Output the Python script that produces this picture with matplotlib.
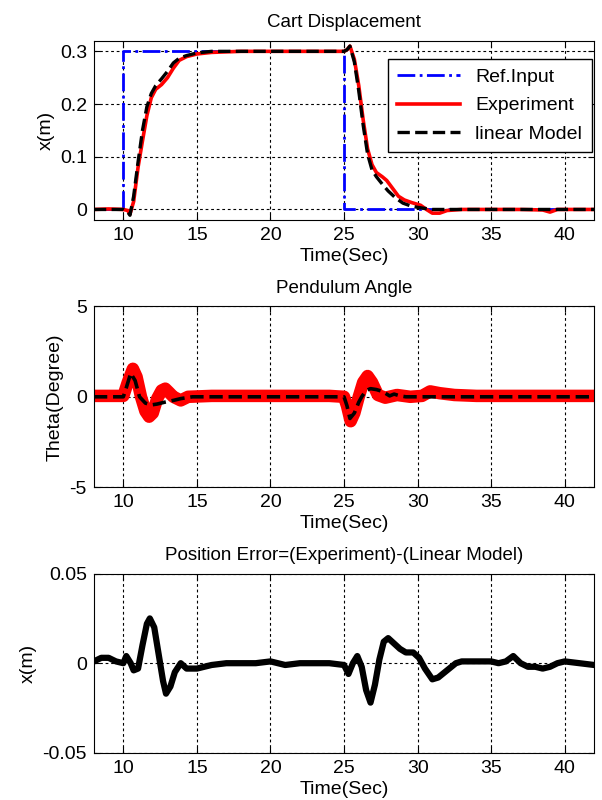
import matplotlib.pyplot as plt
import numpy as np

plt.rcParams['font.family'] = ['Liberation Sans', 'DejaVu Sans']
plt.rcParams['font.size'] = 14
plt.rcParams['axes.unicode_minus'] = False

# reference input (step)
t_ref = [8, 10, 10, 25, 25, 42]
x_ref = [0, 0, 0.3, 0.3, 0, 0]

# cart displacement, experiment
t_exp = [8, 9, 10, 10.3, 10.45, 10.7, 11.0, 11.3, 11.6, 11.9, 12.2, 12.6, 13.0, 13.4, 13.8, 14.3,
         15.0, 16.0, 18, 20, 22, 24, 25.0, 25.2, 25.4, 25.7, 26.0, 26.3, 26.6, 26.9, 27.2,
         27.6, 27.9, 28.3, 28.7, 29.1, 29.6, 30.2, 30.6, 31.0, 31.5, 32.0, 33, 35, 37, 38.5,
         39, 39.5, 41, 42]
x_exp = [0, 0.001, 0.0, -0.002, -0.009, 0.015, 0.08, 0.13, 0.178, 0.212, 0.228, 0.237, 0.25,
         0.268, 0.283, 0.29, 0.295, 0.298, 0.3, 0.3, 0.3, 0.3, 0.3, 0.303, 0.31, 0.285,
         0.235, 0.17, 0.115, 0.085, 0.07, 0.062, 0.055, 0.04, 0.025, 0.018, 0.013, 0.008,
         0.0, -0.007, -0.007, -0.002, 0.0, 0.0, 0.0, -0.001, -0.005, 0.0, 0.0, 0.0]

# cart displacement, linear model
t_lin = [8, 9, 10, 10.3, 10.45, 10.7, 11.0, 11.3, 11.6, 11.9, 12.2, 12.6, 13.0, 13.4, 13.8, 14.3,
         15.0, 16.0, 18, 20, 22, 24, 25.0, 25.2, 25.4, 25.7, 26.0, 26.3, 26.6, 26.9, 27.2,
         27.6, 28.0, 28.5, 29.0, 29.5, 30.0, 31.0, 32, 35, 42]
x_lin = [0, 0, 0.0, -0.005, -0.011, 0.025, 0.09, 0.15, 0.195, 0.22, 0.235, 0.248, 0.262,
         0.278, 0.287, 0.292, 0.297, 0.3, 0.3, 0.3, 0.3, 0.3, 0.3, 0.303, 0.31, 0.28,
         0.225, 0.16, 0.105, 0.075, 0.062, 0.048, 0.035, 0.022, 0.012, 0.007, 0.004, 0.0,
         0.0, 0.0, 0.0]

# pendulum angle, experiment
t_th = [8, 10.0, 10.3, 10.65, 10.9, 11.2, 11.5, 11.75, 12.0, 12.3, 12.6, 12.85, 13.1, 13.4,
        13.9, 14.4, 16, 20, 24, 25.0, 25.2, 25.45, 25.7, 26.0, 26.3, 26.6, 26.9, 27.3,
        27.8, 28.6, 29.5, 30.3, 30.85, 31.5, 32.5, 34, 37, 42]
th_exp = [0.05, 0.05, 0.8, 1.55, 1.1, 0.0, -0.8, -1.1, -0.9, -0.1, 0.35, 0.45, 0.25, 0.0,
          -0.2, 0.0, 0.05, 0.05, 0.05, 0.0, -0.5, -1.35, -0.9, 0.0, 0.8, 1.15, 0.8, 0.1,
          -0.05, 0.1, 0.0, 0.05, 0.3, 0.2, 0.1, 0.05, 0.05, 0.05]

# pendulum angle, linear model
t_thl = [8, 10.0, 10.2, 10.5, 10.8, 11.1, 11.5, 11.9, 12.3, 12.8, 13.4, 13.9, 14.7, 25.0,
         25.2, 25.4, 25.7, 26.0, 26.2, 26.5, 26.8, 27.2, 27.6, 28.1, 28.4, 28.8, 29.2, 42]
th_lin = [0, 0, 0.5, 1.3, 0.9, 0.0, -0.35, -0.45, -0.4, -0.3, -0.2, -0.1, 0.0, 0.0,
          -0.5, -1.2, -0.9, -0.3, 0.0, 0.35, 0.45, 0.4, 0.3, 0.05, 0.15, 0.05, 0.0, 0.0]

# position error
t_err = [8, 8.5, 9, 9.5, 10, 10.2, 10.5, 10.7, 11, 11.3, 11.6, 11.8, 12.1, 12.4, 12.7,
         12.9, 13.2, 13.5, 13.9, 14.3, 15, 16, 17, 18, 19, 20, 21, 22, 23, 24, 25, 25.3,
         25.6, 25.9, 26.2, 26.5, 26.8, 27.1, 27.4, 27.7, 28.0, 28.4, 28.8, 29.2, 29.7,
         30.1, 30.5, 31.0, 31.4, 32, 32.6, 33, 34, 35, 35.5, 36, 36.5, 37, 37.5, 38, 38.5,
         39, 39.5, 40, 41, 42]
x_err = [0.001, 0.003, 0.003, 0.001, 0.0, 0.004, 0.0, -0.004, -0.003, 0.01, 0.022, 0.025,
         0.02, 0.005, -0.01, -0.017, -0.013, -0.005, 0.0, -0.003, -0.003, -0.001, 0.0, 0.0,
         0.0, 0.001, -0.001, 0.0, 0.0, 0.0, -0.001, -0.006, 0.0, 0.004, -0.002, -0.015,
         -0.022, -0.012, 0.002, 0.012, 0.014, 0.011, 0.008, 0.006, 0.006, 0.003, -0.003,
         -0.009, -0.008, -0.004, 0.0, 0.001, 0.001, 0.001, 0.0, 0.001, 0.004, 0.0, -0.002,
         -0.002, -0.003, -0.002, 0.0, 0.001, 0.0, -0.001]

xticks = [10, 15, 20, 25, 30, 35, 40]

fig = plt.figure(figsize=(6.02, 8), dpi=100)
ax1 = fig.add_axes([0.156, 0.725, 0.831, 0.224])
ax2 = fig.add_axes([0.156, 0.391, 0.831, 0.226])
ax3 = fig.add_axes([0.156, 0.059, 0.831, 0.224])


def style(ax):
    ax.set_xlim(8, 42)
    ax.set_xticks(xticks)
    ax.grid(True, color='black', linestyle=(0, (2.5, 2.5)), linewidth=0.8)
    ax.tick_params(direction='in', top=True, right=True, labelsize=14, length=4, pad=5)
    ax.set_xlabel('Time(Sec)', fontsize=14, labelpad=3)


ax1.plot(t_ref, x_ref, color='#0000ff', linestyle='-.', linewidth=2, label='Ref.Input')
ax1.plot(t_exp, x_exp, color='#ff0000', linewidth=2.6, label='Experiment')
ax1.plot(t_lin, x_lin, color='black', linestyle='--', linewidth=2.4, label='linear Model')
ax1.set_ylim(-0.02, 0.32)
ax1.set_yticks([0, 0.1, 0.2, 0.3])
ax1.set_yticklabels(['0', '0.1', '0.2', '0.3'])
ax1.set_ylabel('x(m)', fontsize=14)
ax1.set_title('Cart Displacement', fontsize=13.5, pad=10)
style(ax1)
ax1.legend(loc='upper right', bbox_to_anchor=(0.995, 0.9), fontsize=14, fancybox=False,
           edgecolor='black', framealpha=1, borderaxespad=0, handlelength=3.2,
           labelspacing=0.55, borderpad=0.5)

ax2.plot(t_th, th_exp, color='#ff0000', linewidth=9, solid_capstyle='butt')
ax2.plot(t_thl, th_lin, color='black', linestyle='--', linewidth=2.6)
ax2.set_ylim(-5, 5)
ax2.set_yticks([-5, 0, 5])
ax2.set_ylabel('Theta(Degree)', fontsize=14)
ax2.set_title('Pendulum Angle', fontsize=13.5, pad=10)
style(ax2)

ax3.plot(t_err, x_err, color='black', linewidth=4.5)
ax3.set_ylim(-0.05, 0.05)
ax3.set_yticks([-0.05, 0, 0.05])
ax3.set_yticklabels(['-0.05', '0', '0.05'])
ax3.set_ylabel('x(m)', fontsize=14)
ax3.set_title('Position Error=(Experiment)-(Linear Model)', fontsize=13.5, pad=10)
style(ax3)

fig.savefig('out.png', dpi=100)
